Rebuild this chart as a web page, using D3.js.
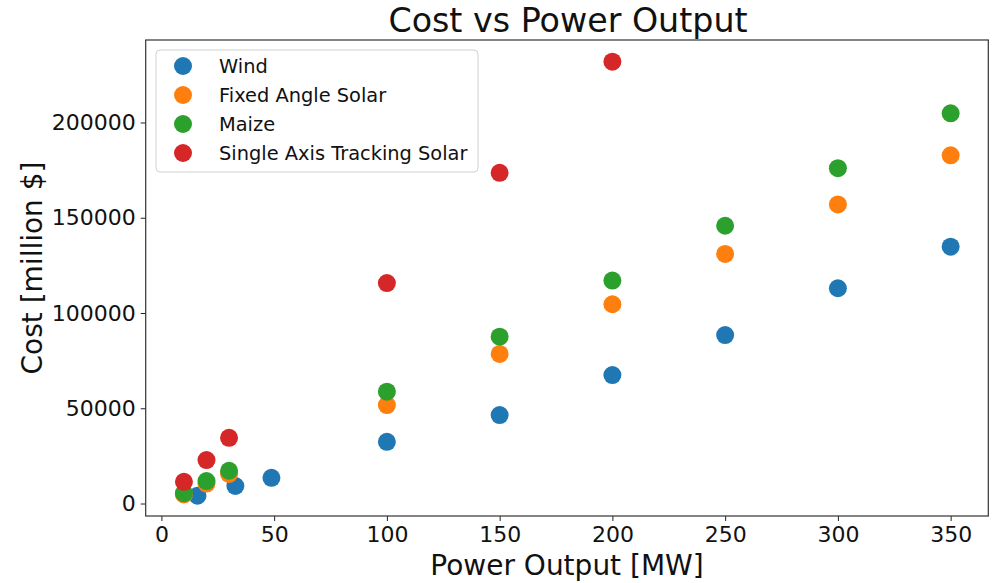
<!DOCTYPE html>
<html>
<head>
<meta charset="utf-8">
<script src="https://cdn.jsdelivr.net/npm/d3@7"></script>
<style>
  html, body { margin: 0; padding: 0; background: #fff; }
  svg { display: block; font-family: "DejaVu Sans", sans-serif; }
</style>
</head>
<body>
<svg id="chart" width="994" height="583"></svg>
<script>
// Power output levels (MW) for each technology
const windPower  = [16, 32.8, 48.8, 100, 150, 200, 250, 300, 350];
const solarPower = [10, 20, 30, 100, 150, 200, 250, 300, 350];
const maizePower = [10, 20, 30, 100, 150, 200, 250, 300, 350];
const trackPower = [10, 20, 30, 100, 150, 200];

// Cost (million $)
const windCost  = [4100, 9200, 13500, 32400, 46400, 67400, 88400, 113000, 134800];
const solarCost = [4800, 10500, 15500, 51700, 78500, 104600, 131000, 157000, 182800];
const maizeCost = [5400, 11800, 17200, 58700, 87600, 117000, 145800, 176000, 204800];
const trackCost = [11400, 22800, 34500, 115700, 173600, 231900];

const seriesNames = ["Wind", "Fixed Angle Solar", "Maize", "Single Axis Tracking Solar"];
const seriesColors = ["#1f77b4", "#ff7f0e", "#2ca02c", "#d62728"];
const xTicks = [0, 50, 100, 150, 200, 250, 300, 350];
const yTicks = [0, 50000, 100000, 150000, 200000];

const series = [
  { name: seriesNames[0], color: seriesColors[0], x: windPower,  y: windCost },
  { name: seriesNames[1], color: seriesColors[1], x: solarPower, y: solarCost },
  { name: seriesNames[2], color: seriesColors[2], x: maizePower, y: maizeCost },
  { name: seriesNames[3], color: seriesColors[3], x: trackPower, y: trackCost }
];

const svg = d3.select("#chart");
const plot = { left: 145.7, right: 988.3, top: 40, bottom: 516 };

const x = d3.scaleLinear().domain([-6.96, 366.7]).range([plot.left, plot.right]);
const y = d3.scaleLinear().domain([-6550, 243300]).range([plot.bottom, plot.top]);

// Axes
const xAxis = svg.append("g")
  .attr("transform", `translate(0,${plot.bottom})`)
  .call(d3.axisBottom(x).tickValues(xTicks).tickFormat(d3.format("d")).tickSize(5).tickPadding(5).tickSizeOuter(0));
const yAxis = svg.append("g")
  .attr("transform", `translate(${plot.left},0)`)
  .call(d3.axisLeft(y).tickValues(yTicks).tickFormat(d3.format("d")).tickSize(5).tickPadding(5).tickSizeOuter(0));

[xAxis, yAxis].forEach(g => {
  g.select(".domain").remove();
  g.selectAll(".tick line").attr("stroke", "#222").attr("stroke-width", 1);
  g.selectAll(".tick text").attr("fill", "#111").style("font-size", "22px")
    .style("font-family", "'DejaVu Sans', sans-serif");
});

// Frame
svg.append("rect")
  .attr("x", plot.left).attr("y", plot.top)
  .attr("width", plot.right - plot.left).attr("height", plot.bottom - plot.top)
  .attr("fill", "none").attr("stroke", "#333").attr("stroke-width", 1.2);

// Points
series.forEach(s => {
  svg.append("g").selectAll("circle")
    .data(s.x.map((v, i) => [v, s.y[i]]))
    .join("circle")
    .attr("cx", d => x(d[0]))
    .attr("cy", d => y(d[1]))
    .attr("r", 9)
    .attr("fill", s.color);
});

// Title and axis labels
svg.append("text")
  .attr("x", (plot.left + plot.right) / 2 + 1).attr("y", 32)
  .attr("text-anchor", "middle")
  .style("font-size", "33.3px").attr("fill", "#111")
  .text("Cost vs Power Output");

svg.append("text")
  .attr("x", (plot.left + plot.right) / 2).attr("y", 575)
  .attr("text-anchor", "middle")
  .style("font-size", "28px").attr("fill", "#111")
  .text("Power Output [MW]");

svg.append("text")
  .attr("transform", `translate(42,${(plot.top + plot.bottom) / 2 - 10}) rotate(-90)`)
  .attr("text-anchor", "middle")
  .style("font-size", "28px").attr("fill", "#111")
  .text("Cost [million $]");

// Legend
const legend = svg.append("g").attr("transform", "translate(156,50)");
legend.append("rect")
  .attr("x", 0).attr("y", 0).attr("width", 322).attr("height", 122)
  .attr("rx", 4).attr("ry", 4)
  .attr("fill", "#fff").attr("fill-opacity", 0.8)
  .attr("stroke", "#d0d0d0").attr("stroke-width", 1);
series.forEach((s, i) => {
  const cy = 16 + i * 29;
  legend.append("circle").attr("cx", 27).attr("cy", cy).attr("r", 9).attr("fill", s.color);
  legend.append("text")
    .attr("x", 63).attr("y", cy + 7)
    .style("font-size", "19.4px").attr("fill", "#111")
    .text(s.name);
});
</script>
</body>
</html>
